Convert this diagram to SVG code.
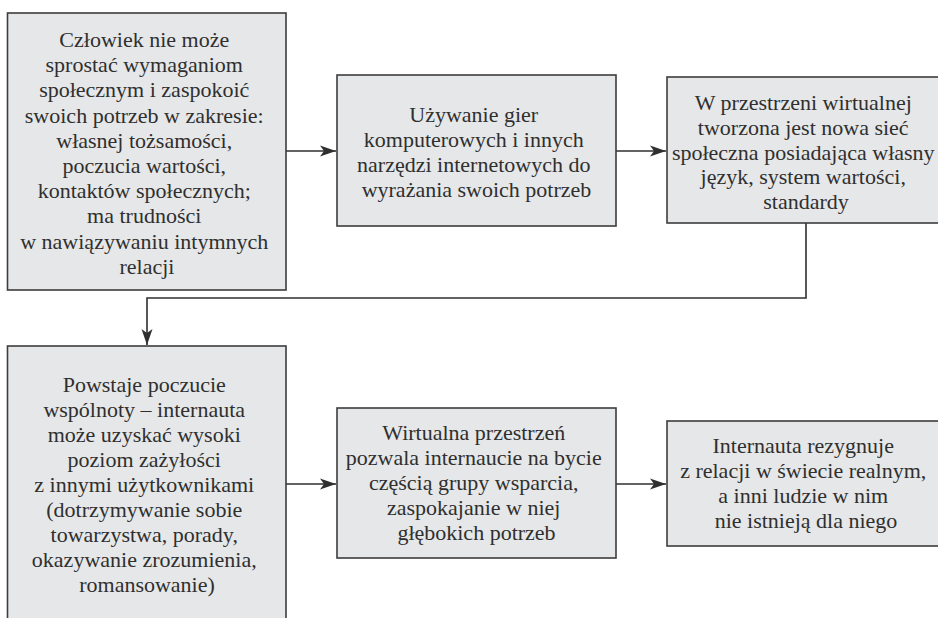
<svg xmlns="http://www.w3.org/2000/svg" width="938" height="618" viewBox="0 0 938 618">
  <defs>
    <style>
      .box { fill: #e6e7e8; stroke: #3d3d3d; stroke-width: 1.6; }
      .lbl { font-family: "Liberation Serif", "Times New Roman", serif; font-size: 22px; fill: #2f2f2f; text-anchor: middle; }
      .wire { fill: none; stroke: #2f2f2f; stroke-width: 1.6; }
    </style>
    <marker id="head" viewBox="0 0 16 12" refX="16" refY="6" markerWidth="16" markerHeight="12" markerUnits="userSpaceOnUse" orient="auto">
      <path d="M0,0.5 L16,6 L0,11.5 L4,6 Z" fill="#2f2f2f"/>
    </marker>
  </defs>
  <rect width="938" height="618" fill="#ffffff"/>

  <g id="connectors">
    <path class="wire" d="M286,151 H336" marker-end="url(#head)"/>
    <path class="wire" d="M616,151 H666" marker-end="url(#head)"/>
    <path class="wire" d="M806,223 V298 H147 V345" marker-end="url(#head)"/>
    <path class="wire" d="M286,484 H336" marker-end="url(#head)"/>
    <path class="wire" d="M616,484 H666" marker-end="url(#head)"/>
  </g>

  <g id="n1">
    <rect class="box" x="7.5" y="13" width="278.5" height="277"/>
    <text class="lbl" x="147" y="47">
      <tspan x="147">Człowiek nie może</tspan>
      <tspan x="147" dy="25.2">sprostać wymaganiom</tspan>
      <tspan x="147" dy="25.2">społecznym i zaspokoić</tspan>
      <tspan x="147" dy="25.2">swoich potrzeb w zakresie:</tspan>
      <tspan x="147" dy="25.2">własnej tożsamości,</tspan>
      <tspan x="147" dy="25.2">poczucia wartości,</tspan>
      <tspan x="147" dy="25.2">kontaktów społecznych;</tspan>
      <tspan x="147" dy="25.2">ma trudności</tspan>
      <tspan x="147" dy="25.2">w nawiązywaniu intymnych</tspan>
      <tspan x="147" dy="25.2">relacji</tspan>
    </text>
  </g>

  <g id="n2">
    <rect class="box" x="337" y="75" width="279" height="151"/>
    <text class="lbl" x="476.5" y="122">
      <tspan x="476.5">Używanie gier</tspan>
      <tspan x="476.5" dy="25">komputerowych i innych</tspan>
      <tspan x="476.5" dy="25">narzędzi internetowych do</tspan>
      <tspan x="476.5" dy="25">wyrażania swoich potrzeb</tspan>
    </text>
  </g>

  <g id="n3">
    <rect class="box" x="667" y="77" width="279" height="146"/>
    <text class="lbl" x="806" y="110">
      <tspan x="806">W przestrzeni wirtualnej</tspan>
      <tspan x="806" dy="24.8">tworzona jest nowa sieć</tspan>
      <tspan x="806" dy="24.8">społeczna posiadająca własny</tspan>
      <tspan x="806" dy="24.8">język, system wartości,</tspan>
      <tspan x="806" dy="24.8">standardy</tspan>
    </text>
  </g>

  <g id="n4">
    <rect class="box" x="7.5" y="346" width="278.5" height="280"/>
    <text class="lbl" x="147" y="392">
      <tspan x="147">Powstaje poczucie</tspan>
      <tspan x="147" dy="25">wspólnoty – internauta</tspan>
      <tspan x="147" dy="25">może uzyskać wysoki</tspan>
      <tspan x="147" dy="25">poziom zażyłości</tspan>
      <tspan x="147" dy="25">z innymi użytkownikami</tspan>
      <tspan x="147" dy="25">(dotrzymywanie sobie</tspan>
      <tspan x="147" dy="25">towarzystwa, porady,</tspan>
      <tspan x="147" dy="25">okazywanie zrozumienia,</tspan>
      <tspan x="147" dy="25">romansowanie)</tspan>
    </text>
  </g>

  <g id="n5">
    <rect class="box" x="337" y="408" width="279" height="150"/>
    <text class="lbl" x="476.5" y="440">
      <tspan x="476.5">Wirtualna przestrzeń</tspan>
      <tspan x="476.5" dy="25">pozwala internaucie na bycie</tspan>
      <tspan x="476.5" dy="25">częścią grupy wsparcia,</tspan>
      <tspan x="476.5" dy="25">zaspokajanie w niej</tspan>
      <tspan x="476.5" dy="25">głębokich potrzeb</tspan>
    </text>
  </g>

  <g id="n6">
    <rect class="box" x="667" y="421" width="279" height="125"/>
    <text class="lbl" x="806" y="453">
      <tspan x="806">Internauta rezygnuje</tspan>
      <tspan x="806" dy="25">z relacji w świecie realnym,</tspan>
      <tspan x="806" dy="25">a inni ludzie w nim</tspan>
      <tspan x="806" dy="25">nie istnieją dla niego</tspan>
    </text>
  </g>
</svg>
